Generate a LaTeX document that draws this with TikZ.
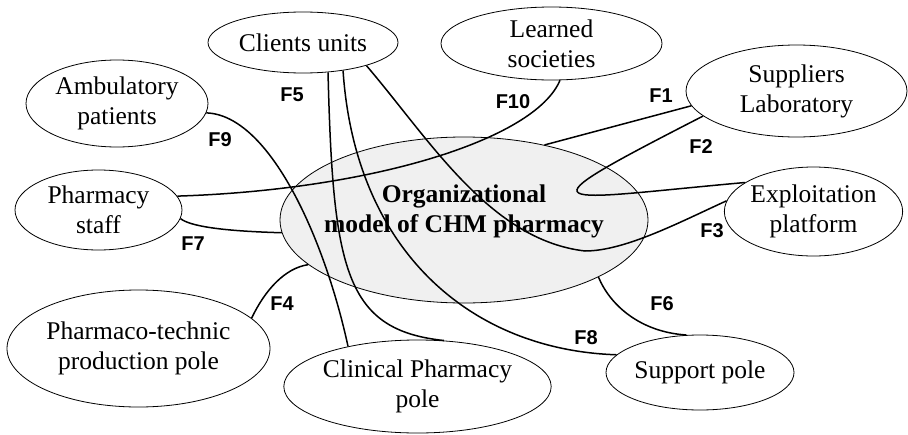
\documentclass[tikz,border=0pt]{standalone}
\usepackage{fontspec}
\setmainfont{Liberation Serif}
\setsansfont{Liberation Sans}
\usetikzlibrary{shapes.geometric}
\definecolor{hubgray}{RGB}{240,240,240}

\begin{document}
\begin{tikzpicture}[
    x=1pt, y=-1pt,
    bubble/.style={draw, ellipse, align=center, inner sep=0pt, line width=0.8pt,
                   font={\fontsize{25.5}{30}\selectfont}},
    hub/.style={bubble, fill=hubgray, minimum width=368pt, minimum height=166pt},
    flow/.style={line width=1.5pt},
    tag/.style={font={\sffamily\bfseries\fontsize{20}{20}\selectfont}}
]
\useasboundingbox (0,0) rectangle (908,434);

\node[hub] (model) at (464,220) {};
\node[align=center, font={\bfseries\fontsize{25.5}{30}\selectfont}] (modeltext) at (464,211) {Organizational\\model of CHM pharmacy};

\node[bubble, minimum width=190pt, minimum height=61pt] (clients) at (303,42.5) {Clients units};
\node[bubble, minimum width=221pt, minimum height=73pt] (learned) at (551.5,43.5) {Learned\\societies};
\node[bubble, minimum width=221pt, minimum height=92pt] (suppliers) at (796.5,91) {Suppliers\\Laboratory};
\node[bubble, minimum width=177pt, minimum height=89pt] (exploit) at (813.5,211.5) {Exploitation\\platform};
\node[bubble, minimum width=188pt, minimum height=75pt] (support) at (700,372.5) {Support pole};
\node[bubble, minimum width=249pt, minimum height=93pt] (clinical) at (417.5,386.5) {Clinical Pharmacy\\pole};
\node[bubble, minimum width=263pt, minimum height=117pt] (pharmaco) at (138.5,348.5) {Pharmaco-technic\\production pole};
\node[bubble, minimum width=167pt, minimum height=80pt] (staff) at (98.5,210) {Pharmacy\\staff};
\node[bubble, minimum width=182pt, minimum height=87pt] (ambul) at (117,103.5) {Ambulatory\\patients};

\draw[flow] (suppliers.188) -- (model.43);
\draw[flow] (suppliers.195) .. controls (510,215) and (550,200) .. (exploit.157);
\draw[flow] (clients.340) .. controls (430,140) and (490,240) .. (585,251)
            .. controls (625,251) and (680,222) .. (exploit.173);
\draw[flow] (clients.310) .. controls (333,270) and (345,330) .. (clinical.60);
\draw[flow] (clients.325) .. controls (355,250) and (470,350) .. (support.168);
\draw[flow] (ambul.354) .. controls (270,115) and (325,240) .. (clinical.150);
\draw[flow] (staff.10) .. controls (370,190) and (535,140) .. (learned.283);
\draw[flow] (pharmaco.15) .. controls (265,290) and (285,268) .. (model.196);
\draw[flow] (staff.354) .. controls (190,226) and (220,231) .. (model.184);
\draw[flow] (model.337) .. controls (610,305) and (640,332) .. (support.110);

\node[tag] (f1) at (661,96) {F1};
\node[tag] (f2) at (701,147) {F2};
\node[tag] (f3) at (712,231) {F3};
\node[tag] (f4) at (282,304) {F4};
\node[tag] (f5) at (292,95) {F5};
\node[tag] (f6) at (662,304) {F6};
\node[tag] (f7) at (193,244) {F7};
\node[tag] (f8) at (586,338) {F8};
\node[tag] (f9) at (220,140) {F9};
\node[tag] (f10) at (513,102) {F10};
\end{tikzpicture}
\end{document}
